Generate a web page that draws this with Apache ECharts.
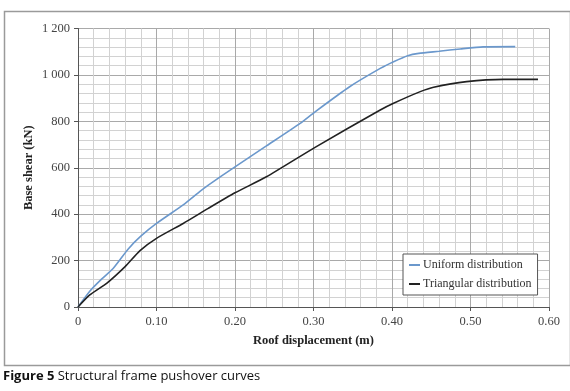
<!DOCTYPE html>
<html><head><meta charset="utf-8">
<script src="https://cdn.jsdelivr.net/npm/echarts@6/dist/echarts.min.js"></script>
<style>html,body{margin:0;padding:0;background:#fff}#c{width:570px;height:391px}</style>
</head><body><div id="c"></div>
<script>
var uniformData = [[0,0],[0.015,68],[0.03,120],[0.045,167],[0.064,250],[0.08,305],[0.1,360],[0.134,440],[0.155,497],[0.166,525],[0.2,604],[0.24,694],[0.283,791],[0.302,841],[0.346,949],[0.385,1028],[0.402,1057],[0.42,1083],[0.434,1093],[0.46,1102],[0.487,1112],[0.516,1121],[0.557,1122]];
var triangularData = [[0,0],[0.015,52],[0.0365,102],[0.06,174],[0.079,243],[0.1,296],[0.134,360],[0.166,425],[0.2,492],[0.24,561],[0.302,688],[0.385,849],[0.402,878],[0.436,928],[0.453,947],[0.495,971],[0.542,981],[0.586,981]];
var seriesNames = ['Uniform distribution','Triangular distribution'];
var xTickLabels = ['0','0.10','0.20','0.30','0.40','0.50','0.60'];
var yTickLabels = ['0','200','400','600','800','1 000','1 200'];

var serif = '"Liberation Serif", "DejaVu Serif", serif';
var chart = echarts.init(document.getElementById('c'), null, {renderer:'canvas'});
chart.setOption({
  animation:false,
  backgroundColor:'#fff',
  grid:{left:78,right:21,top:28.5,bottom:84},
  legend:{
    orient:'vertical', left:403, top:254, data:seriesNames,
    icon:'rect', itemWidth:11, itemHeight:2, itemGap:7,
    backgroundColor:'#fff', borderColor:'#555', borderWidth:1, borderRadius:0,
    padding:[5,6,5,6],
    textStyle:{fontFamily:serif, fontSize:12, color:'#333', padding:[0,0,0,-2]}
  },
  xAxis:{
    type:'value', min:0, max:0.6, interval:0.1,
    name:'Roof displacement (m)', nameLocation:'middle', nameGap:27, nameMoveOverlap:false,
    nameTextStyle:{fontFamily:serif, fontWeight:'bold', fontSize:12.5, color:'#222'},
    axisLine:{show:true, lineStyle:{color:'#555', width:1}},
    axisTick:{show:true, length:4, lineStyle:{color:'#555'}},
    axisLabel:{fontFamily:serif, fontSize:12.5, color:'#444', margin:8,
      formatter:function(v){return xTickLabels[Math.round(v*10)];}},
    splitLine:{show:true, lineStyle:{color:'#a9a9a9', width:1}},
    minorTick:{show:false, splitNumber:5},
    minorSplitLine:{show:true, lineStyle:{color:'#d2d2d2', width:1}}
  },
  yAxis:{
    type:'value', min:0, max:1200, interval:200,
    name:'Base shear (kN)', nameLocation:'middle', nameGap:43, nameRotate:90, nameMoveOverlap:false,
    nameTextStyle:{fontFamily:serif, fontWeight:'bold', fontSize:12.5, color:'#222'},
    axisLine:{show:true, lineStyle:{color:'#555', width:1}},
    axisTick:{show:true, length:4, lineStyle:{color:'#555'}},
    axisLabel:{fontFamily:serif, fontSize:12.5, color:'#444', margin:8,
      formatter:function(v){return yTickLabels[Math.round(v/200)];}},
    splitLine:{show:true, lineStyle:{color:'#a9a9a9', width:1}},
    minorTick:{show:false, splitNumber:5},
    minorSplitLine:{show:true, lineStyle:{color:'#d2d2d2', width:1}}
  },
  series:[
    {name:seriesNames[0], type:'line', data:uniformData, showSymbol:false, smooth:0.2,
     lineStyle:{color:'#6b98cc', width:1.6}, itemStyle:{color:'#6b98cc'}},
    {name:seriesNames[1], type:'line', data:triangularData, showSymbol:false, smooth:0.2,
     lineStyle:{color:'#222', width:1.6}, itemStyle:{color:'#222'}}
  ],
  graphic:[
    {type:'rect', left:2, top:9, shape:{width:566, height:354}, style:{fill:'none', stroke:'#9a9a9a', lineWidth:1.5}, silent:true, z:-1},
    {type:'text', left:3, top:370, style:{
      text:'{b|Figure 5} {r|Structural frame pushover curves}',
      rich:{
        b:{fontFamily:'"Open Sans", "Noto Sans", sans-serif', fontWeight:'bold', fontSize:13, fill:'#111'},
        r:{fontFamily:'"Open Sans", "Noto Sans", sans-serif', fontSize:13, fill:'#111'}
      }}}
  ]
});
</script></body></html>
